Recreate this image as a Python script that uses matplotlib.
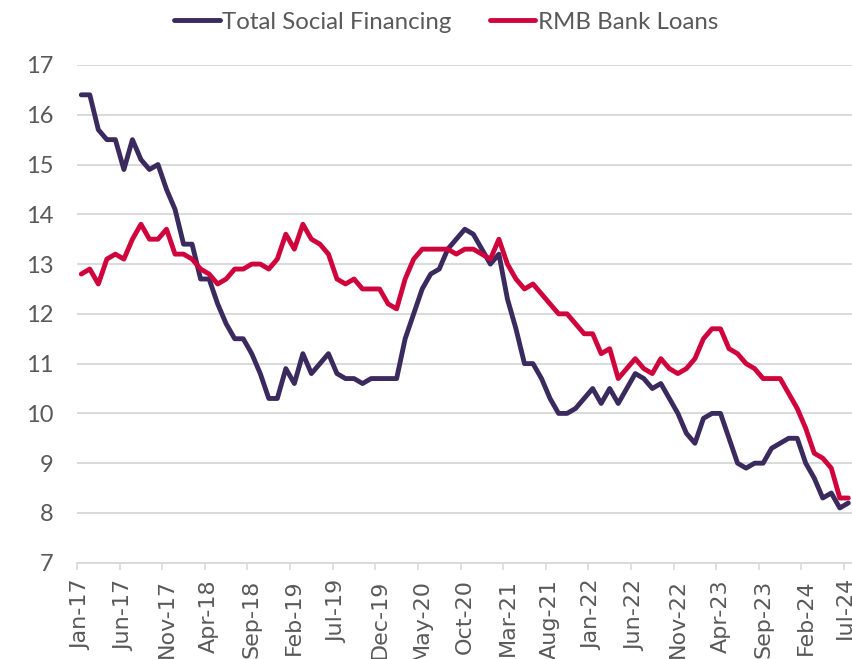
import numpy as np
import pandas as pd
import matplotlib
matplotlib.use("Agg")
import matplotlib.pyplot as plt
from matplotlib.ticker import FixedLocator

# monthly growth rates, % y/y, Jan-17 .. Jul-24
months = pd.date_range("2017-01-01", "2024-07-01", freq="MS")

tsf = [16.4, 16.4, 15.7, 15.5, 15.5, 14.9, 15.5, 15.1, 14.9, 15.0,
       14.5, 14.1, 13.4, 13.4, 12.7, 12.7, 12.2, 11.8, 11.5, 11.5,
       11.2, 10.8, 10.3, 10.3, 10.9, 10.6, 11.2, 10.8, 11.0, 11.2,
       10.8, 10.7, 10.7, 10.6, 10.7, 10.7, 10.7, 10.7, 11.5, 12.0,
       12.5, 12.8, 12.9, 13.3, 13.5, 13.7, 13.6, 13.3, 13.0, 13.2,
       12.3, 11.7, 11.0, 11.0, 10.7, 10.3, 10.0, 10.0, 10.1, 10.3,
       10.5, 10.2, 10.5, 10.2, 10.5, 10.8, 10.7, 10.5, 10.6, 10.3,
       10.0, 9.6, 9.4, 9.9, 10.0, 10.0, 9.5, 9.0, 8.9, 9.0,
       9.0, 9.3, 9.4, 9.5, 9.5, 9.0, 8.7, 8.3, 8.4, 8.1,
       8.2]

rmb_loans = [12.8, 12.9, 12.6, 13.1, 13.2, 13.1, 13.5, 13.8, 13.5, 13.5,
             13.7, 13.2, 13.2, 13.1, 12.9, 12.8, 12.6, 12.7, 12.9, 12.9,
             13.0, 13.0, 12.9, 13.1, 13.6, 13.3, 13.8, 13.5, 13.4, 13.2,
             12.7, 12.6, 12.7, 12.5, 12.5, 12.5, 12.2, 12.1, 12.7, 13.1,
             13.3, 13.3, 13.3, 13.3, 13.2, 13.3, 13.3, 13.2, 13.1, 13.5,
             13.0, 12.7, 12.5, 12.6, 12.4, 12.2, 12.0, 12.0, 11.8, 11.6,
             11.6, 11.2, 11.3, 10.7, 10.9, 11.1, 10.9, 10.8, 11.1, 10.9,
             10.8, 10.9, 11.1, 11.5, 11.7, 11.7, 11.3, 11.2, 11.0, 10.9,
             10.7, 10.7, 10.7, 10.4, 10.1, 9.7, 9.2, 9.1, 8.9, 8.3,
             8.3]

labels = [d.strftime("%b-%y") for d in months]

grey_text = "#595959"
grid_col = "#d9d9d9"

plt.rcParams["font.family"] = ["Lato", "DejaVu Sans"]

fig = plt.figure(figsize=(8.52, 6.59), dpi=100)
ax = fig.add_axes([0.0904, 0.1461, 0.9103, 0.7553])

x = np.arange(len(months))
ax.plot(x, tsf, color="#3b2a5e", lw=3.5, label="Total Social Financing",
        solid_joinstyle="round", solid_capstyle="round")
ax.plot(x, rmb_loans, color="#d0043c", lw=3.5, label="RMB Bank Loans",
        solid_joinstyle="round", solid_capstyle="round")

ax.set_xlim(-0.5, len(months) - 0.5)
ax.set_ylim(7, 17)
ax.set_yticks(range(7, 18))
ax.yaxis.grid(True, color=grid_col, lw=1.4)
ax.set_axisbelow(True)
ax.tick_params(axis="y", length=0, pad=17, labelsize=17, labelcolor=grey_text)

# labels every 5 months at category centres, tick marks at category edges
ax.xaxis.set_major_locator(FixedLocator(x[::5]))
ax.set_xticklabels(labels[::5], rotation=90, family="DejaVu Sans",
                   fontsize=16, color=grey_text)
ax.xaxis.set_minor_locator(FixedLocator(x[::5] - 0.5))
ax.tick_params(axis="x", which="major", length=0, pad=12)
ax.tick_params(axis="x", which="minor", length=5, width=1.2, color=grid_col)

for side in ["top", "right", "left"]:
    ax.spines[side].set_visible(False)
ax.spines["bottom"].set_color(grid_col)
ax.spines["bottom"].set_linewidth(1.4)

fig.legend(loc="upper center", bbox_to_anchor=(0.5235, 1.015), ncol=2,
           frameon=False, fontsize=17.3, labelcolor=grey_text,
           handlelength=1.9, handletextpad=0.1, columnspacing=1.6)

fig.savefig("out.png", dpi=100)
